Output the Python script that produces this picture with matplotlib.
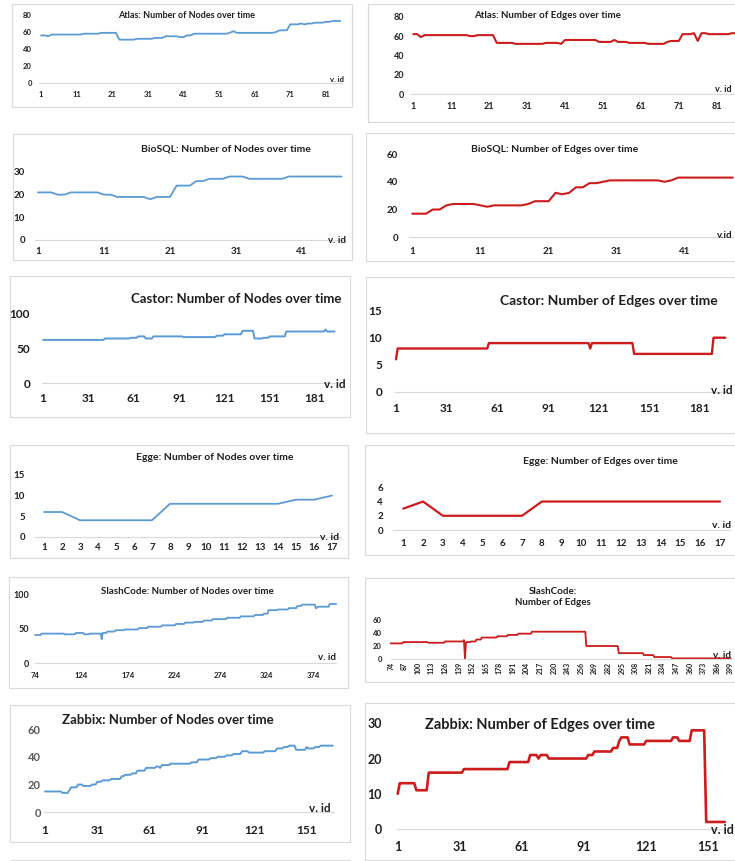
import numpy as np
import matplotlib
matplotlib.use('Agg')
import matplotlib.pyplot as plt
from matplotlib.patches import Rectangle

plt.rcParams['font.family'] = ['Lato', 'DejaVu Sans']
plt.rcParams['font.weight'] = 'bold'

W, H = 735, 861
BLUE = '#5B9BD5'
RED = '#CC1C1C'
TXT = '#1f1f1f'

# values, stored as (value, run length) pairs
atlas_nodes_vals = [56, 55, 57, 58, 59, 51, 52, 53, 55, 54, 56, 58, 59, 61, 59, 60, 62, 69, 70, 69, 70, 71, 72, 73]
atlas_nodes_runs = [2, 1, 9, 5, 5, 5, 5, 3, 4, 2, 2, 10, 1, 1, 11, 1, 3, 3, 1, 1, 2, 3, 2, 3]

atlas_edges_vals = [62, 59, 61, 60, 61, 53, 52, 53, 52, 56, 54, 56, 54, 53, 52, 54, 55, 62, 63, 55, 63, 62, 63]
atlas_edges_runs = [2, 1, 12, 2, 5, 5, 8, 4, 1, 9, 4, 1, 3, 5, 5, 1, 3, 3, 1, 1, 2, 6, 4]

biosql_nodes_vals = [21, 20, 21, 20, 19, 18, 19, 24, 26, 27, 28, 27, 28]
biosql_nodes_runs = [3, 2, 5, 2, 5, 1, 3, 3, 2, 3, 3, 6, 9]

biosql_edges_vals = [17, 20, 23, 24, 23, 22, 23, 24, 26, 32, 31, 32, 36, 39, 40, 41, 40, 41, 43]
biosql_edges_runs = [3, 2, 1, 4, 1, 1, 5, 1, 3, 1, 1, 1, 2, 2, 1, 8, 1, 1, 9]

castor_nodes_vals = [62, 64, 65, 67, 64, 67, 66, 68, 70, 75, 64, 65, 67, 74, 77, 74]
castor_nodes_runs = [41, 17, 5, 5, 5, 20, 22, 5, 12, 8, 6, 4, 11, 26, 1, 6]

castor_edges_vals = [6, 8, 9, 8, 9, 7, 10]
castor_edges_runs = [1, 54, 60, 1, 25, 47, 8]

egge_nodes = [6, 6, 4, 4, 4, 4, 4, 8, 8, 8, 8, 8, 8, 8, 9, 9, 10]
egge_edges = [3, 4, 2, 2, 2, 2, 2, 4, 4, 4, 4, 4, 4, 4, 4, 4, 4]

slash_nodes_vals = [41, 43, 42, 44, 42, 43, 35, 44, 46, 48, 49, 51, 53, 55, 57, 59, 60, 62, 64, 66,
                    68, 70, 72, 77, 78, 80, 83, 85, 80, 82, 86]
slash_nodes_runs = [7, 25, 12, 9, 6, 13, 1, 5, 9, 10, 15, 10, 15, 15, 10, 10, 10, 10, 15, 15,
                    15, 10, 5, 10, 12, 9, 5, 15, 2, 13, 8]

slash_edges_vals = [24, 26, 25, 27, 29, 0, 26, 27, 30, 33, 35, 37, 39, 42, 20, 9, 6, 3, 1]
slash_edges_runs = [12, 24, 16, 18, 1, 1, 5, 5, 5, 15, 10, 10, 13, 52, 31, 24, 10, 17, 57]

zabbix_nodes_vals = [15, 14, 16, 18, 20, 19, 20, 22, 23, 24, 26, 27, 28, 30, 32, 33, 32, 34, 35, 36,
                     38, 39, 40, 41, 42, 44, 43, 44, 46, 47, 48, 45, 47, 46, 47, 48]
zabbix_nodes_runs = [10, 4, 1, 4, 3, 5, 3, 3, 5, 6, 2, 4, 3, 5, 6, 2, 1, 5, 12, 4,
                     7, 4, 5, 4, 5, 4, 9, 7, 4, 3, 4, 6, 1, 4, 3, 8]

zabbix_edges_vals = [10, 13, 11, 16, 17, 19, 21, 20, 21, 20, 21, 22, 23, 25, 26, 24, 25, 26, 25, 28, 2]
zabbix_edges_runs = [1, 8, 6, 17, 22, 10, 4, 1, 4, 19, 3, 9, 3, 1, 4, 8, 13, 3, 6, 7, 10]

slash_ids = np.arange(74, 400)

fig = plt.figure(figsize=(W / 100, H / 100), dpi=100)


def expand(vals, runs):
    return np.repeat(vals, runs)


def frame(x0, y0, x1, y1):
    fig.add_artist(Rectangle((x0 / W, 1 - y1 / H), (x1 - x0) / W, (y1 - y0) / H,
                             transform=fig.transFigure, fill=False, ec='#D9D9D9', lw=0.8))


def panel(x, y, color, lw, xcal, ycal, xlim, ylim, xticks, yticks, fs, ylab_right, xlab_y,
          title, tpos, tfs, vpos, box, title_ha='center', fsy=None, ycolor=TXT,
          xrot=0, xfs=None, vfs=None, vid='v. id'):
    (xa, pa), (xb, pb) = xcal
    sx = (pb - pa) / (xb - xa)
    left = pa + (xlim[0] - xa) * sx
    right = pa + (xlim[1] - xa) * sx
    (ya, qa), (yb, qb) = ycal
    sy = (qb - qa) / (yb - ya)
    bottom = qa + (ylim[0] - ya) * sy
    top = qa + (ylim[1] - ya) * sy
    ax = fig.add_axes([left / W, 1 - bottom / H, (right - left) / W, (bottom - top) / H])
    ax.patch.set_alpha(0)
    ax.plot(x, y, color=color, lw=lw, solid_joinstyle='round', solid_capstyle='round', clip_on=False)
    ax.set_xlim(xlim)
    ax.set_ylim(ylim)
    for s in ['top', 'right', 'left']:
        ax.spines[s].set_visible(False)
    ax.spines['bottom'].set_color('#D9D9D9')
    ax.spines['bottom'].set_linewidth(0.8)
    ax.set_xticks(xticks)
    ax.set_yticks(yticks)
    ax.tick_params(length=0)
    fsy = fsy or fs
    xfs = xfs or fs
    vfs = vfs or xfs
    ax.tick_params(axis='y', pad=(left - ylab_right) * 0.72, labelsize=fsy, labelcolor=ycolor)
    if xrot:
        ax.tick_params(axis='x', pad=(xlab_y - bottom) * 0.72, labelsize=xfs, labelcolor=TXT)
        plt.setp(ax.get_xticklabels(), rotation=xrot)
    else:
        ax.tick_params(axis='x', pad=(xlab_y - bottom - 0.62 * xfs / 0.72) * 0.72,
                       labelsize=xfs, labelcolor=TXT)
    frame(*box)
    fig.text(tpos[0] / W, 1 - tpos[1] / H, title, ha=title_ha, va='center', fontsize=tfs,
             fontweight='bold', color=TXT, linespacing=1.15)
    fig.text(vpos[0] / W, 1 - vpos[1] / H, vid, ha='center', va='center', fontsize=vfs,
             fontweight='bold', color=TXT)
    return ax


# Atlas
y = expand(atlas_nodes_vals, atlas_nodes_runs)
panel(np.arange(1, len(y) + 1), y, BLUE, 1.3, ((1, 41), (81, 326)), ((0, 83), (80, 15)),
      (0.5, 85.5), (0, 80), range(1, 86, 10), range(0, 81, 20), 5.5, 32, 96,
      'Atlas: Number of Nodes over time', (187, 15), 6.5, (337, 80), (12, 4, 352, 107))

y = expand(atlas_edges_vals, atlas_edges_runs)
panel(np.arange(1, len(y) + 1), y, RED, 1.5, ((1, 413.3), (81, 716.7)), ((0, 94.3), (80, 16.7)),
      (0.5, 88.5), (0, 80), range(1, 86, 10), range(0, 81, 20), 6.5, 404, 108,
      'Atlas: Number of Edges over time', (547, 16), 7, (723, 90), (368, 4, 745, 122))

# BioSQL
y = expand(biosql_nodes_vals, biosql_nodes_runs)
panel(np.arange(1, len(y) + 1), y, BLUE, 1.3, ((1, 38), (41, 302)), ((0, 240), (30, 172)),
      (0.5, 47.5), (0, 30), range(1, 42, 10), range(0, 31, 10), 7, 25, 253,
      'BioSQL: Number of Nodes over time', (226, 149), 7.5, (337, 241), (13, 134, 352, 260))

y = expand(biosql_edges_vals, biosql_edges_runs)
panel(np.arange(1, len(y) + 1), y, RED, 1.5, ((1, 412.3), (41, 685)), ((0, 237.3), (60, 154)),
      (0.5, 48.5), (0, 60), range(1, 42, 10), range(0, 61, 20), 7, 398, 253,
      'BioSQL: Number of Edges over time', (555, 149), 7.5, (725, 235), (366, 133, 745, 261),
      vid='v.id')

# Castor
y = expand(castor_nodes_vals, castor_nodes_runs)
panel(np.arange(1, len(y) + 1), y, BLUE, 1.4, ((1, 43), (181, 315)), ((0, 383.3), (100, 313.3)),
      (0.5, 194.5), (0, 100), range(1, 182, 30), [0, 50, 100], 8.5, 30, 400,
      'Castor: Number of Nodes over time', (236, 299), 9.5, (335, 385), (10, 276, 350, 417))

y = expand(castor_edges_vals, castor_edges_runs)
panel(np.arange(1, len(y) + 1), y, RED, 1.7, ((1, 396), (181, 700)), ((0, 391.7), (15, 310.7)),
      (0.5, 196.5), (0, 15), range(1, 182, 30), range(0, 16, 5), 8.5, 382, 410,
      'Castor: Number of Edges over time', (500, 301), 10, (722, 390), (366, 277, 745, 433),
      title_ha='left')

# Egge
panel(np.arange(1, 18), egge_nodes, BLUE, 1.3, ((1, 44), (17, 332)), ((0, 536.7), (15, 475)),
      (0.5, 17.5), (0, 15), range(1, 18), range(0, 16, 5), 7, 25, 549,
      'Egge: Number of Nodes over time', (215, 458), 7.5, (330, 537), (10, 445, 348, 558),
      vfs=7.5)

panel(np.arange(1, 18), egge_edges, RED, 1.6, ((1, 403.3), (17, 720)), ((0, 530), (6, 487.3)),
      (0.5, 17.5), (0, 6), range(1, 18), range(0, 7, 2), 7, 383, 545,
      'Egge: Number of Edges over time', (600, 462), 7.5, (722, 526), (365, 445, 745, 555),
      vfs=7.5)

# SlashCode
y = expand(slash_nodes_vals, slash_nodes_runs)
panel(slash_ids, y, BLUE, 1.3, ((74, 35), (374, 313)), ((0, 663.3), (100, 594.3)),
      (74, 399), (0, 100), range(74, 375, 50), [0, 50, 100], 5.5, 29, 677,
      'SlashCode: Number of Nodes over time', (187, 592), 7, (327, 658), (9, 577, 348, 688),
      fsy=6.5, vfs=7)

y = expand(slash_edges_vals, slash_edges_runs)
panel(slash_ids, y, RED, 1.3, ((74, 390.7), (399, 730.7)), ((0, 659), (60, 620)),
      (74, 399), (0, 60), range(74, 400, 13), range(0, 61, 20), 5.5, 382, 662,
      'SlashCode:\nNumber of Edges', (553, 597), 7, (722, 656), (365, 578, 745, 682),
      xrot=90, xfs=5, vfs=7)

# Zabbix
y = expand(zabbix_nodes_vals, zabbix_nodes_runs)
panel(np.arange(1, len(y) + 1), y, BLUE, 1.4, ((1, 45), (151, 306.7)), ((0, 812.3), (60, 729)),
      (0.5, 166.5), (0, 60), range(1, 152, 30), range(0, 61, 20), 8.5, 41, 832,
      'Zabbix: Number of Nodes over time', (168, 720), 9.5, (320, 808), (10, 705, 350, 842),
      fsy=8, ycolor='#595959')
frame(10, 860, 350, 900)

y = expand(zabbix_edges_vals, zabbix_edges_runs)
panel(np.arange(1, len(y) + 1), y, RED, 1.9, ((1, 397.7), (151, 708.3)), ((0, 829), (30, 723.3)),
      (0.5, 159.5), (0, 30), range(1, 152, 30), range(0, 31, 10), 9, 382, 849,
      'Zabbix: Number of Edges over time', (540, 725), 10.5, (722, 830), (365, 703, 745, 860))

fig.savefig('out.png', dpi=100)
